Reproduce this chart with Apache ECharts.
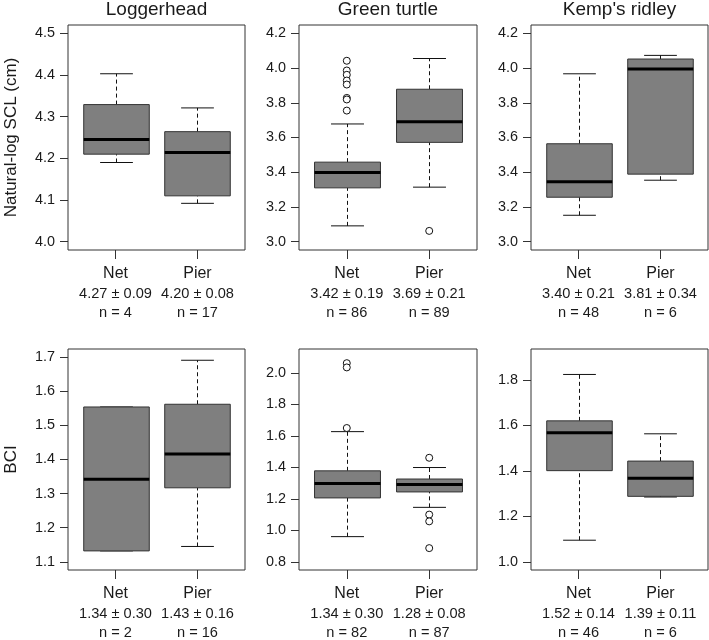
<!DOCTYPE html>
<html>
<head>
<meta charset="utf-8">
<script src="https://cdn.jsdelivr.net/npm/echarts@6/dist/echarts.min.js"></script>
<style>
  html, body { margin: 0; padding: 0; background: #fff; }
  #chart { width: 709px; height: 640px; }
</style>
</head>
<body>
<div id="chart"></div>
<script>
// groups on the x axis
const groups = ["Net", "Pier"];
const species = ["Loggerhead", "Green turtle", "Kemp's ridley"];

// box stats per group: [lower whisker, Q1, median, Q3, upper whisker]
const sclLoggerhead = [[4.190, 4.210, 4.245, 4.329, 4.403], [4.092, 4.110, 4.214, 4.264, 4.321]];
const sclGreen = [[3.091, 3.310, 3.399, 3.458, 3.678], [3.314, 3.572, 3.691, 3.878, 4.055]];
const sclKemp = [[3.152, 3.256, 3.345, 3.564, 3.967], [3.354, 3.389, 3.994, 4.052, 4.073]];
const bciLoggerhead = [[1.132, 1.132, 1.342, 1.554, 1.554], [1.145, 1.317, 1.416, 1.562, 1.691]];
const bciGreen = [[0.960, 1.206, 1.297, 1.378, 1.627], [1.146, 1.244, 1.291, 1.326, 1.399]];
const bciKemp = [[1.095, 1.401, 1.568, 1.620, 1.824], [1.285, 1.288, 1.368, 1.443, 1.563]];

// outliers per group
const sclGreenOutliers = [[4.042, 3.986, 3.961, 3.928, 3.905, 3.828, 3.819, 3.755], [3.062]];
const bciGreenOutliers = [[2.062, 2.035, 1.650], [1.461, 1.100, 1.057, 0.887]];
const noOutliers = [[], []];

// mean ± sd and sample sizes under each group
const sclMeans = [["4.27 ± 0.09", "4.20 ± 0.08"], ["3.42 ± 0.19", "3.69 ± 0.21"], ["3.40 ± 0.21", "3.81 ± 0.34"]];
const sclN = [[4, 17], [86, 89], [48, 6]];
const bciMeans = [["1.34 ± 0.30", "1.43 ± 0.16"], ["1.34 ± 0.30", "1.28 ± 0.08"], ["1.52 ± 0.14", "1.39 ± 0.11"]];
const bciN = [[2, 16], [82, 87], [46, 6]];

// y tick labels
const sclTicksLoggerhead = [4.0, 4.1, 4.2, 4.3, 4.4, 4.5];
const sclTicksGreen = [3.0, 3.2, 3.4, 3.6, 3.8, 4.0, 4.2];
const sclTicksKemp = [3.0, 3.2, 3.4, 3.6, 3.8, 4.0, 4.2];
const bciTicksLoggerhead = [1.1, 1.2, 1.3, 1.4, 1.5, 1.6, 1.7];
const bciTicksGreen = [0.8, 1.0, 1.2, 1.4, 1.6, 1.8, 2.0];
const bciTicksKemp = [1.0, 1.2, 1.4, 1.6, 1.8];

// y limits before the 4% padding
const sclLimits = [[4.0, 4.5], [3.0, 4.2], [3.0, 4.2]];
const bciLimits = [[1.1, 1.7], [0.8, 2.1], [1.0, 1.9]];

const FONT = "Liberation Sans, Arial, Helvetica, sans-serif";
const INK = "#1a1a1a";

const panels = [
  { row: 0, col: 0, boxes: sclLoggerhead, out: noOutliers, ticks: sclTicksLoggerhead, lim: sclLimits[0], means: sclMeans[0], n: sclN[0], name: "Natural-log SCL (cm)" },
  { row: 0, col: 1, boxes: sclGreen, out: sclGreenOutliers, ticks: sclTicksGreen, lim: sclLimits[1], means: sclMeans[1], n: sclN[1] },
  { row: 0, col: 2, boxes: sclKemp, out: noOutliers, ticks: sclTicksKemp, lim: sclLimits[2], means: sclMeans[2], n: sclN[2] },
  { row: 1, col: 0, boxes: bciLoggerhead, out: noOutliers, ticks: bciTicksLoggerhead, lim: bciLimits[0], means: bciMeans[0], n: bciN[0], name: "BCI" },
  { row: 1, col: 1, boxes: bciGreen, out: bciGreenOutliers, ticks: bciTicksGreen, lim: bciLimits[1], means: bciMeans[1], n: bciN[1] },
  { row: 1, col: 2, boxes: bciKemp, out: noOutliers, ticks: bciTicksKemp, lim: bciLimits[2], means: bciMeans[2], n: bciN[2] }
];

const colLeft = [68, 299, 531];
const colWidth = [177, 178, 177];
const rowTop = [25, 349];
const rowHeight = [225, 224];

function renderBox(params, api) {
  const x = api.value(0);
  const lo = api.coord([x, api.value(1)]);
  const q1 = api.coord([x, api.value(2)]);
  const md = api.coord([x, api.value(3)]);
  const q3 = api.coord([x, api.value(4)]);
  const hi = api.coord([x, api.value(5)]);
  const w = api.size([0.8, 0])[0];
  const cx = Math.round(lo[0]) + 0.5;
  const dash = { stroke: "#111", lineWidth: 1, lineDash: [4, 3] };
  const solid = { stroke: "#111", lineWidth: 1 };
  return {
    type: "group",
    children: [
      { type: "line", shape: { x1: cx, y1: q3[1], x2: cx, y2: hi[1] }, style: dash },
      { type: "line", shape: { x1: cx, y1: lo[1], x2: cx, y2: q1[1] }, style: dash },
      { type: "line", shape: { x1: cx - w / 4, y1: hi[1], x2: cx + w / 4, y2: hi[1] }, style: solid },
      { type: "line", shape: { x1: cx - w / 4, y1: lo[1], x2: cx + w / 4, y2: lo[1] }, style: solid },
      { type: "rect", shape: { x: cx - w / 2, y: q3[1], width: w, height: q1[1] - q3[1] },
        style: { fill: "#7f7f7f", stroke: "#333", lineWidth: 1 } },
      { type: "line", shape: { x1: cx - w / 2, y1: md[1], x2: cx + w / 2, y2: md[1] },
        style: { stroke: "#000", lineWidth: 3 } }
    ]
  };
}

const grid = [], xAxis = [], yAxis = [], series = [], title = [];

panels.forEach((p, i) => {
  const pad = (p.lim[1] - p.lim[0]) * 0.04;
  grid.push({
    left: colLeft[p.col], top: rowTop[p.row], width: colWidth[p.col], height: rowHeight[p.row],
    show: true, borderColor: "#333", borderWidth: 1, backgroundColor: "transparent"
  });
  xAxis.push({
    type: "value", gridIndex: i, min: 0.42, max: 2.58,
    axisLine: { show: false }, splitLine: { show: false },
    axisTick: { show: true, customValues: [1, 2], length: 9, lineStyle: { color: "#333" } },
    axisLabel: {
      customValues: [1, 2], margin: 13,
      formatter: v => {
        const k = Math.round(v) - 1;
        return "{a|" + groups[k] + "}\n{b|" + p.means[k] + "}\n{b|n = " + p.n[k] + "}";
      },
      rich: {
        a: { fontFamily: FONT, fontSize: 16, lineHeight: 21, color: INK },
        b: { fontFamily: FONT, fontSize: 14.6, lineHeight: 19, color: INK }
      }
    }
  });
  yAxis.push({
    type: "value", gridIndex: i, min: p.lim[0] - pad, max: p.lim[1] + pad,
    name: p.name || "", nameLocation: "middle", nameGap: 48,
    nameTextStyle: { fontFamily: FONT, fontSize: 17, color: INK },
    axisLine: { show: false }, splitLine: { show: false },
    axisTick: { show: true, customValues: p.ticks, length: 8, lineStyle: { color: "#333" } },
    axisLabel: {
      customValues: p.ticks, margin: 13, fontFamily: FONT, fontSize: 14.4, color: INK,
      formatter: v => v.toFixed(1)
    }
  });
  series.push({
    type: "custom", xAxisIndex: i, yAxisIndex: i, renderItem: renderBox,
    encode: { x: 0, y: [1, 2, 3, 4, 5] },
    data: p.boxes.map((b, k) => [k + 1].concat(b)),
    silent: true
  });
  const pts = [];
  p.out.forEach((vals, k) => vals.forEach(v => pts.push([k + 1, v])));
  series.push({
    type: "scatter", xAxisIndex: i, yAxisIndex: i, data: pts,
    symbol: "circle", symbolSize: 7, silent: true,
    itemStyle: { color: "#fff", borderColor: "#111", borderWidth: 1, opacity: 1 }
  });
});

species.forEach((s, c) => {
  title.push({
    text: s, left: colLeft[c] + colWidth[c] / 2, top: 0, padding: 0, textAlign: "center",
    textStyle: { fontFamily: FONT, fontSize: 19, fontWeight: "normal", color: INK }
  });
});

const chart = echarts.init(document.getElementById("chart"), null, { renderer: "canvas" });
chart.setOption({
  animation: false,
  backgroundColor: "#fff",
  title: title,
  grid: grid,
  xAxis: xAxis,
  yAxis: yAxis,
  series: series
});
</script>
</body>
</html>
